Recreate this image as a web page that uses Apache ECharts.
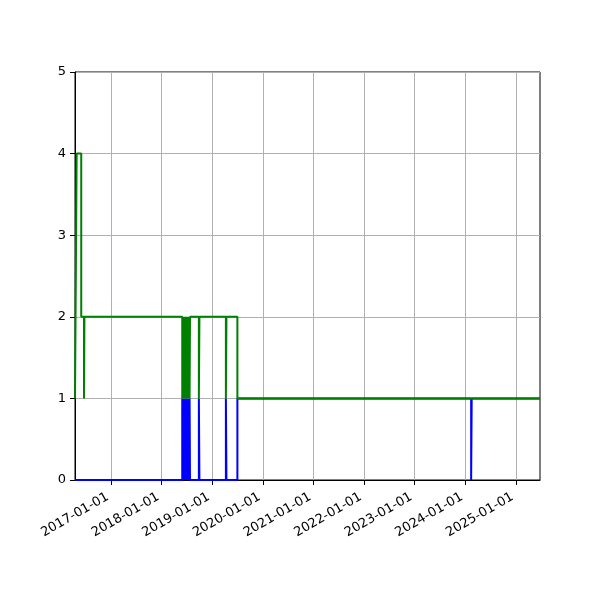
<!DOCTYPE html>
<html>
<head>
<meta charset="utf-8">
<script src="https://cdn.jsdelivr.net/npm/echarts@6/dist/echarts.min.js"></script>
<style>html,body{margin:0;padding:0;background:#fff}#c{width:600px;height:600px}</style>
</head>
<body>
<div id="c"></div>
<script>
// Dates where values change (step-post)
const dates = [
  '2016-04-15','2016-04-27','2016-05-30','2016-06-19','2016-06-22',
  '2018-05-29','2018-06-02','2018-06-05','2018-06-09','2018-06-12','2018-06-16','2018-06-19','2018-06-23',
  '2018-06-30','2018-07-04','2018-07-07','2018-07-11','2018-07-14','2018-07-18','2018-07-21','2018-07-24',
  '2018-09-26','2018-09-30','2019-04-09','2019-04-13','2019-07-01',
  '2024-02-12','2024-02-16','2025-06-23'
];
const greenValues = [
  1,4,2,1,2,
  1,2,1,2,1,2,1,2,
  1,2,1,2,1,2,1,2,
  1,2,1,2,1,
  1,1,1
];
const blueValues = [
  0,0,0,0,0,
  1,0,1,0,1,0,1,0,
  1,0,1,0,1,0,1,0,
  1,0,1,0,1,
  0,1,1
];
const tickLabels = ['2017-01-01','2018-01-01','2019-01-01','2020-01-01','2021-01-01','2022-01-01','2023-01-01','2024-01-01','2025-01-01'];
const xMin = '2016-04-15';
const xMax = '2025-06-23';
const yTicks = [0,1,2,3,4,5];

const ts = s => Date.parse(s + 'T00:00:00Z');
const tickVals = tickLabels.map(ts);
const fmt = v => { const d = new Date(v); return d.toISOString().slice(0,10); };

const chart = echarts.init(document.getElementById('c'));
chart.setOption({
  animation: false,
  grid: {left: 75, right: 60, top: 72, bottom: 120, show: true, borderColor: '#000', borderWidth: 1, backgroundColor: 'transparent'},
  xAxis: {
    type: 'value',
    min: ts(xMin), max: ts(xMax),
    axisLine: {show: true, lineStyle: {color: '#000', width: 1}},
    axisTick: {show: true, length: 5, lineStyle: {color: '#000'}, customValues: tickVals},
    axisLabel: {customValues: tickVals, formatter: v => fmt(v), rotate: 30, color: '#000', fontSize: 13, fontFamily: 'DejaVu Sans', margin: 14, padding: [0, 4, 0, 0]},
    splitLine: {show: true, lineStyle: {color: '#b0b0b0', width: 1}}
  },
  yAxis: {
    type: 'value', min: yTicks[0], max: yTicks[yTicks.length-1], interval: 1,
    axisLine: {show: true, lineStyle: {color: '#000', width: 1}},
    axisTick: {show: true, length: 5, lineStyle: {color: '#000'}},
    axisLabel: {color: '#000', fontSize: 13, fontFamily: 'DejaVu Sans', margin: 9},
    splitLine: {show: true, lineStyle: {color: '#b0b0b0', width: 1}}
  },
  series: [
    {type: 'line', step: 'end', showSymbol: false, lineStyle: {color: '#0000ff', width: 2}, itemStyle: {color: '#0000ff'},
     data: dates.map((d, i) => [ts(d), blueValues[i]])},
    {type: 'line', step: 'end', showSymbol: false, lineStyle: {color: '#008000', width: 2}, itemStyle: {color: '#008000'},
     data: dates.map((d, i) => [ts(d), greenValues[i]])}
  ]
});
</script>
</body>
</html>
